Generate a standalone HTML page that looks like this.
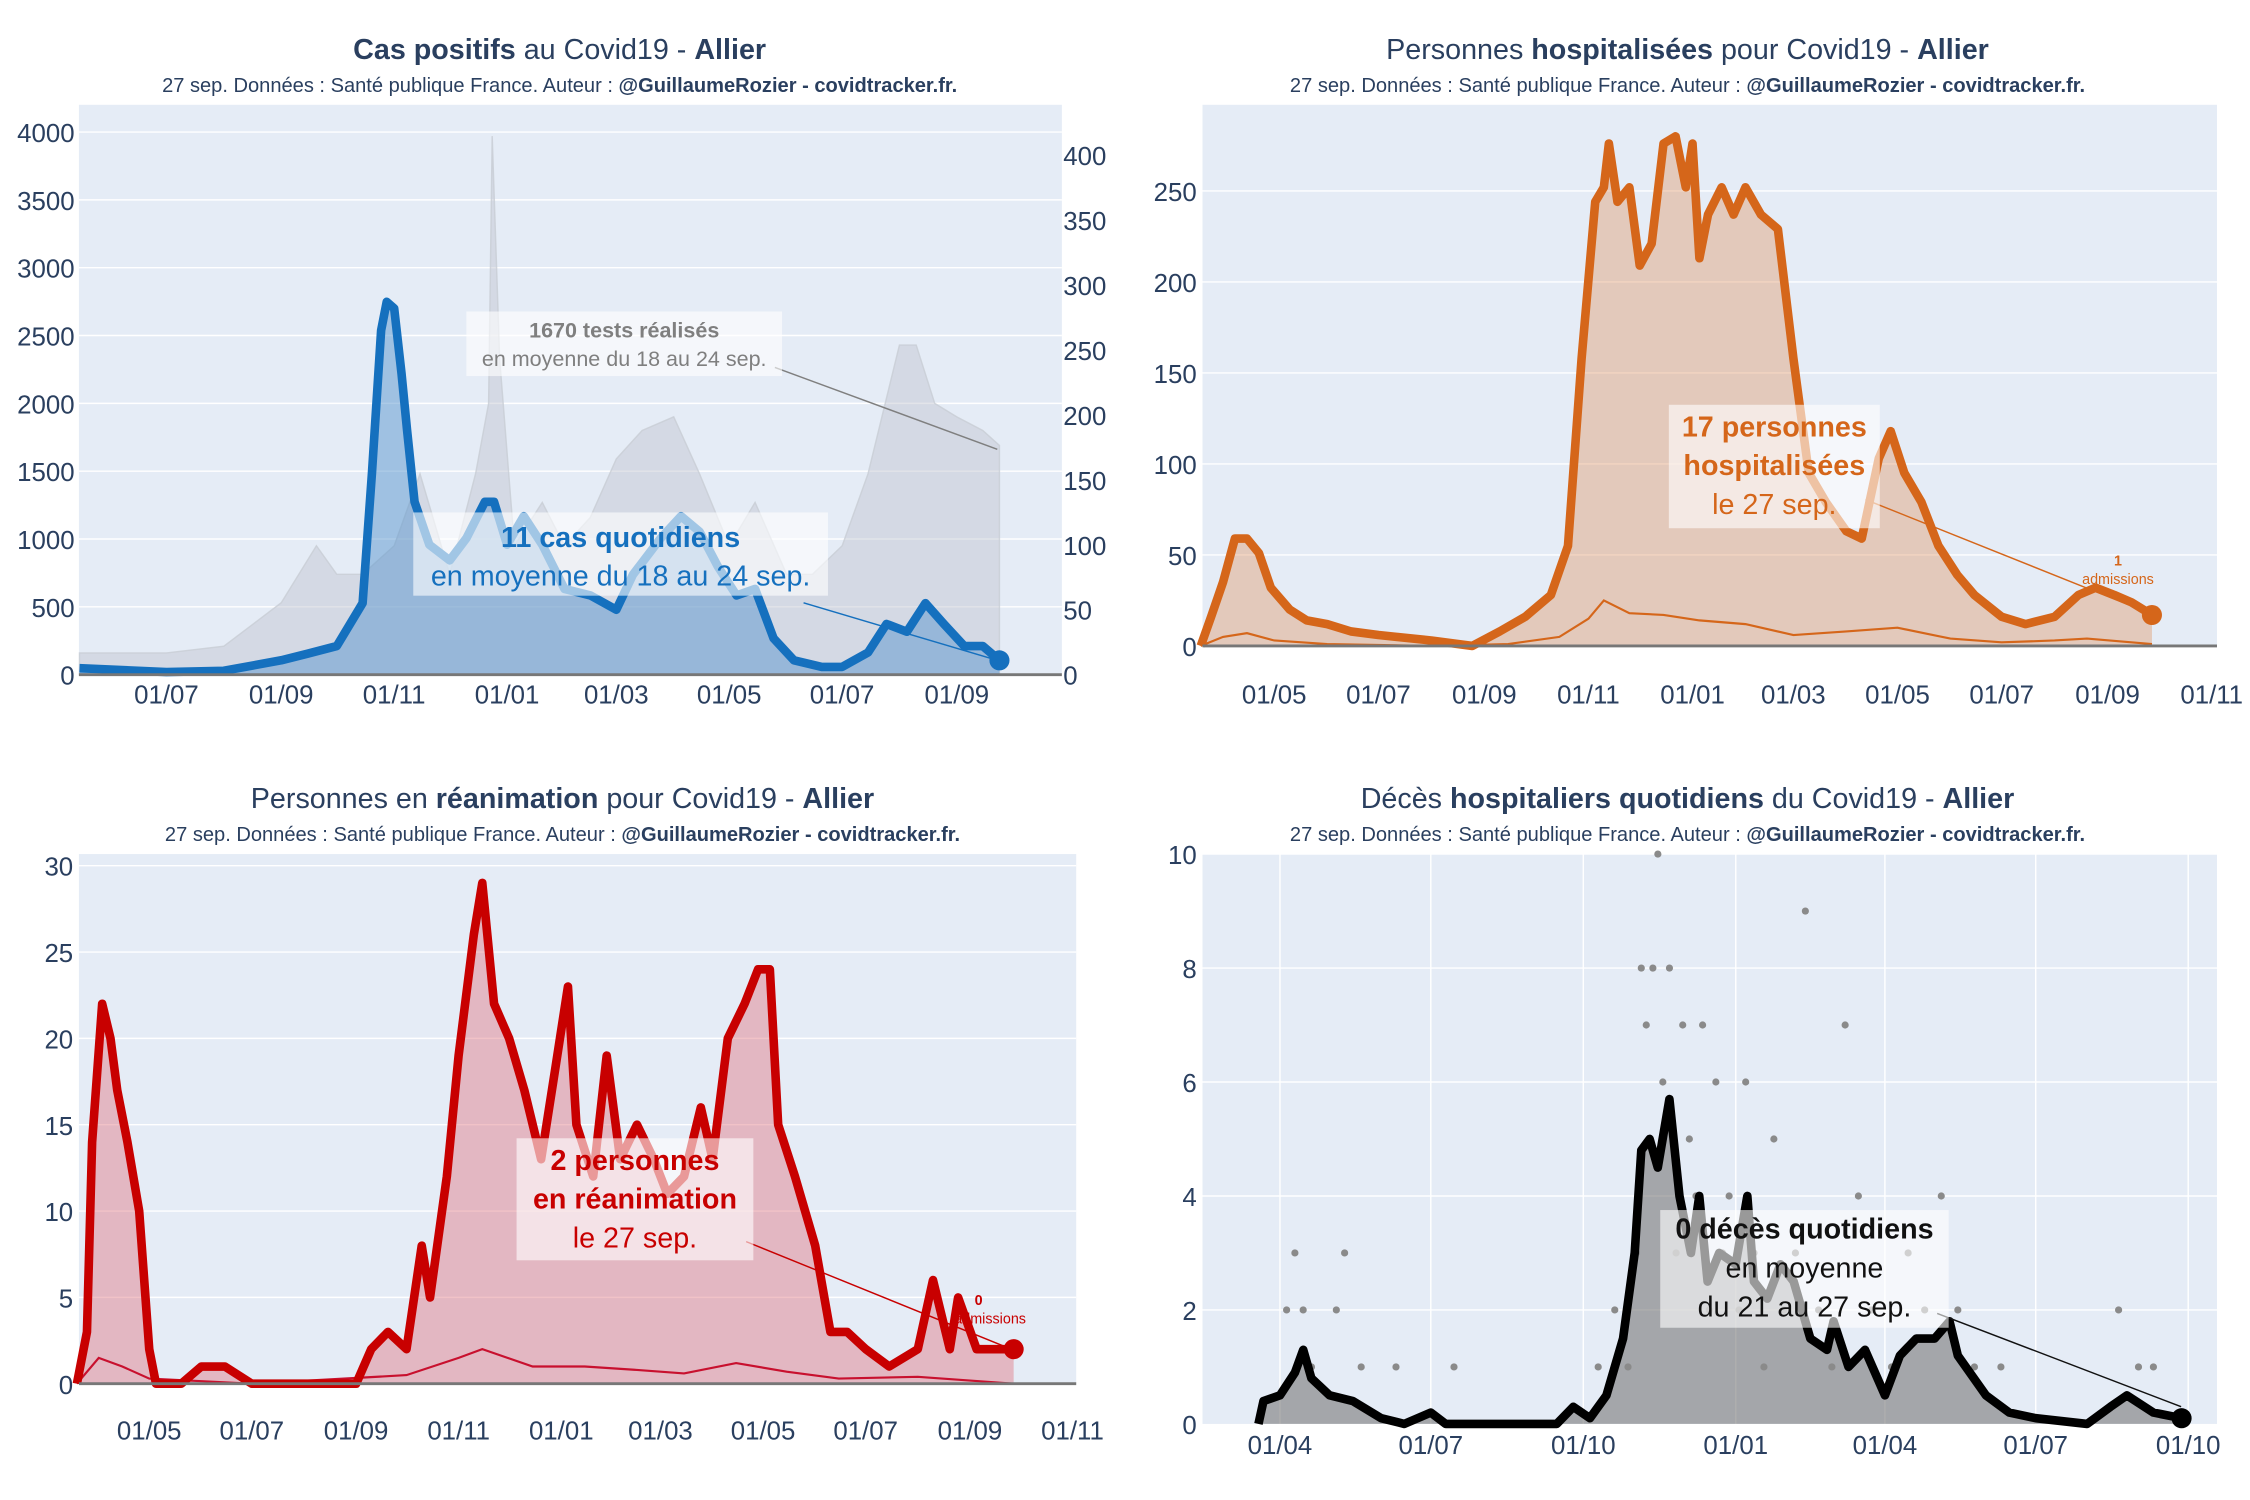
<!DOCTYPE html>
<html><head><meta charset="utf-8"><style>
html,body{margin:0;padding:0;background:#fff;}
svg{display:block;font-family:"Liberation Sans",sans-serif;}
</style></head><body>
<svg id="root" width="2250" height="1500" viewBox="0 0 1568 1045" preserveAspectRatio="none" xmlns="http://www.w3.org/2000/svg"></svg>
<script>
// ---------- DATA ----------
const casesDates=["2020-05-15","2020-07-01","2020-08-01","2020-09-01","2020-09-15","2020-10-01","2020-10-15","2020-10-20","2020-10-25","2020-10-28","2020-11-01","2020-11-05","2020-11-08","2020-11-12","2020-11-20","2020-12-01","2020-12-10","2020-12-20","2020-12-25","2021-01-01","2021-01-10","2021-01-20","2021-02-01","2021-02-15","2021-03-01","2021-03-10","2021-03-25","2021-04-05","2021-04-15","2021-04-25","2021-05-05","2021-05-15","2021-05-25","2021-06-05","2021-06-20","2021-07-01","2021-07-15","2021-07-25","2021-08-05","2021-08-15","2021-08-25","2021-09-05","2021-09-15","2021-09-24"];
const casesValues=[5,2,3,11,16,22,55,155,265,287,282,232,188,133,100,88,105,133,133,100,122,100,66,61,50,77,105,122,110,83,61,66,28,11,6,6,17,39,33,55,39,22,22,11];
const testsDates=["2020-05-15","2020-07-01","2020-08-01","2020-09-01","2020-09-20","2020-10-01","2020-10-15","2020-11-01","2020-11-15","2020-12-01","2020-12-15","2020-12-22","2020-12-24","2020-12-28","2021-01-05","2021-01-20","2021-02-01","2021-02-15","2021-03-01","2021-03-15","2021-04-01","2021-04-15","2021-05-01","2021-05-15","2021-06-01","2021-06-15","2021-07-01","2021-07-15","2021-08-01","2021-08-10","2021-08-20","2021-09-01","2021-09-15","2021-09-24"];
const testsValues=[160,160,210,530,950,740,740,950,1480,740,1480,2000,3970,2330,950,1270,950,1160,1590,1800,1900,1480,950,1270,740,740,950,1480,2430,2430,2000,1900,1800,1690];
const hospDates=["2020-03-19","2020-03-25","2020-04-01","2020-04-08","2020-04-15","2020-04-22","2020-04-29","2020-05-10","2020-05-20","2020-06-01","2020-06-15","2020-07-01","2020-08-01","2020-08-25","2020-09-10","2020-09-25","2020-10-10","2020-10-20","2020-10-28","2020-11-05","2020-11-10","2020-11-13","2020-11-18","2020-11-25","2020-12-01","2020-12-08","2020-12-15","2020-12-22","2020-12-28","2021-01-01","2021-01-05","2021-01-10","2021-01-18","2021-01-25","2021-02-01","2021-02-10","2021-02-20","2021-03-01","2021-03-10","2021-03-20","2021-04-01","2021-04-10","2021-04-20","2021-04-27","2021-05-05","2021-05-15","2021-05-25","2021-06-05","2021-06-15","2021-07-01","2021-07-15","2021-08-01","2021-08-15","2021-08-25","2021-09-05","2021-09-15","2021-09-27"];
const hospValues=[0,16,35,59,59,51,32,20,14,12,8,6,3,0,8,16,28,55,158,244,252,276,244,252,209,221,276,280,252,276,213,237,252,237,252,237,229,158,95,79,63,59,103,118,95,79,55,39,28,16,12,16,28,32,28,24,17];
const hospAdmDates=["2020-03-19","2020-04-01","2020-04-15","2020-05-01","2020-06-01","2020-08-01","2020-09-15","2020-10-15","2020-11-01","2020-11-10","2020-11-25","2020-12-15","2021-01-05","2021-02-01","2021-03-01","2021-04-01","2021-05-01","2021-06-01","2021-07-01","2021-08-01","2021-08-20","2021-09-27"];
const hospAdmValues=[0,5,7,3,1,0,1,5,15,25,18,17,14,12,6,8,10,4,2,3,4,1];
const reaDates=["2020-03-19","2020-03-25","2020-03-28","2020-04-03","2020-04-08","2020-04-12","2020-04-18","2020-04-25","2020-05-01","2020-05-05","2020-05-20","2020-06-01","2020-06-15","2020-07-01","2020-09-01","2020-09-10","2020-09-20","2020-10-01","2020-10-10","2020-10-15","2020-10-25","2020-11-01","2020-11-10","2020-11-15","2020-11-22","2020-12-01","2020-12-10","2020-12-20","2020-12-28","2021-01-05","2021-01-10","2021-01-20","2021-01-28","2021-02-05","2021-02-15","2021-02-25","2021-03-05","2021-03-15","2021-03-25","2021-04-01","2021-04-10","2021-04-20","2021-04-28","2021-05-05","2021-05-10","2021-05-20","2021-06-01","2021-06-10","2021-06-20","2021-07-01","2021-07-15","2021-08-01","2021-08-10","2021-08-20","2021-08-25","2021-09-05","2021-09-15","2021-09-27"];
const reaValues=[0,3,14,22,20,17,14,10,2,0,0,1,1,0,0,2,3,2,8,5,12,19,26,29,22,20,17,13,18,23,15,12,19,13,15,13,11,12,16,13,20,22,24,24,15,12,8,3,3,2,1,2,6,2,5,2,2,2];
const reaAdmDates=["2020-03-19","2020-04-01","2020-04-15","2020-05-01","2020-07-01","2020-10-01","2020-11-01","2020-11-15","2020-12-15","2021-01-15","2021-02-15","2021-03-15","2021-04-15","2021-05-15","2021-06-15","2021-08-01","2021-09-27"];
const reaAdmValues=[0,1.5,1,0.3,0,0.5,1.5,2,1,1,0.8,0.6,1.2,0.7,0.3,0.4,0];
const decesDates=["2020-03-19","2020-03-22","2020-04-01","2020-04-10","2020-04-15","2020-04-20","2020-05-01","2020-05-15","2020-06-01","2020-06-15","2020-07-01","2020-07-10","2020-09-15","2020-09-25","2020-10-05","2020-10-15","2020-10-25","2020-11-01","2020-11-05","2020-11-10","2020-11-15","2020-11-22","2020-11-28","2020-12-05","2020-12-10","2020-12-15","2020-12-22","2021-01-01","2021-01-08","2021-01-12","2021-01-20","2021-01-28","2021-02-05","2021-02-15","2021-02-25","2021-03-01","2021-03-10","2021-03-20","2021-04-01","2021-04-10","2021-04-20","2021-05-01","2021-05-10","2021-05-15","2021-06-01","2021-06-15","2021-07-01","2021-08-01","2021-08-15","2021-08-25","2021-09-10","2021-09-27"];
const decesValues=[0,0.4,0.5,0.9,1.3,0.8,0.5,0.4,0.1,0,0.2,0,0,0.3,0.1,0.5,1.5,3,4.8,5,4.5,5.7,4,3,4,2.5,3,2.8,4,2.5,2.2,2.8,2.5,1.5,1.3,1.8,1,1.3,0.5,1.2,1.5,1.5,1.8,1.2,0.5,0.2,0.1,0,0.3,0.5,0.2,0.1];
const dailyDeathDates=["2020-04-05","2020-04-10","2020-04-15","2020-04-20","2020-05-05","2020-05-10","2020-05-20","2020-06-10","2020-07-15","2020-10-10","2020-10-20","2020-10-28","2020-11-02","2020-11-05","2020-11-08","2020-11-12","2020-11-15","2020-11-18","2020-11-22","2020-11-26","2020-11-30","2020-12-04","2020-12-08","2020-12-12","2020-12-16","2020-12-20","2020-12-24","2020-12-28","2021-01-03","2021-01-07","2021-01-12","2021-01-18","2021-01-24","2021-01-30","2021-02-06","2021-02-12","2021-02-20","2021-02-28","2021-03-08","2021-03-16","2021-03-24","2021-04-05","2021-04-15","2021-04-25","2021-05-05","2021-05-15","2021-05-25","2021-06-10","2021-08-20","2021-09-01","2021-09-10"];
const dailyDeathValues=[2,3,2,1,2,3,1,1,1,1,2,1,3,8,7,8,10,6,8,3,7,5,4,7,2,6,3,4,2,6,3,1,5,2,3,9,2,1,7,4,2,1,3,2,4,2,1,1,2,1,1];

// ---------- HELPERS ----------
const NS="http://www.w3.org/2000/svg";
const root=document.getElementById("root");
function el(tag,attrs,parent){const e=document.createElementNS(NS,tag);for(const k in attrs)e.setAttribute(k,attrs[k]);(parent||root).appendChild(e);return e;}
function days(s){return Date.UTC(+s.slice(0,4),+s.slice(5,7)-1,+s.slice(8,10))/86400000;}
function mkScaleX(refDate,refX,ppd){const r=days(refDate);return d=>refX+(days(d)-r)*ppd;}
function mkScaleY(y0,ppu){return v=>y0-v*ppu;}
function linePath(ds,vs,sx,sy){return ds.map((d,i)=>(i?"L":"M")+sx(d).toFixed(1)+","+sy(vs[i]).toFixed(1)).join("");}
function areaPath(ds,vs,sx,sy){return linePath(ds,vs,sx,sy)+"L"+sx(ds[ds.length-1]).toFixed(1)+","+sy(0)+"L"+sx(ds[0]).toFixed(1)+","+sy(0)+"Z";}
function txt(x,y,s,size,fill,anchor,weight,parent){const t=el("text",{x:x,y:y,"font-size":size,fill:fill,"text-anchor":anchor||"middle","font-weight":weight||"normal"},parent);t.textContent=s;return t;}

function title(cx,y,parts){const t=el("text",{x:cx,y:y,"font-size":20,fill:"#2a3f5f","text-anchor":"middle"});
  
  
  parts.forEach(p=>{const s=el("tspan",{"font-weight":p[1]?"bold":"normal"},t);s.textContent=p[0];});
  const sub=el("text",{x:cx,y:y+23,"font-size":14,fill:"#2a3f5f","text-anchor":"middle"});
  
  
  const a=el("tspan",{},sub);a.textContent="27 sep. Données : Santé publique France. Auteur : ";
  const b=el("tspan",{"font-weight":"bold"},sub);b.textContent="@GuillaumeRozier - covidtracker.fr.";
}
function plotBg(x,y,w,h,name){const r=el("rect",{x:x,y:y,width:w,height:h,fill:"#e5ecf6"});
  
  }
function yTicks(vals,sy,x,x1,x2,anchor,grid){const g=el("g",{});
  
  
  vals.forEach(v=>{if(grid&&v>0)el("line",{x1:x1,x2:x2,y1:sy(v),y2:sy(v),stroke:"#fff","stroke-width":1},g);txt(x,sy(v)+7,String(v),18,"#2a3f5f",anchor,"normal",g);});}
function xTicks(ds,labels,sx,y,vgrid,y1,y2){const g=el("g",{});
  
  
  ds.forEach((d,i)=>{if(vgrid)el("line",{x1:sx(d),x2:sx(d),y1:y1,y2:y2,stroke:"#fff","stroke-width":1},g);txt(sx(d),y,labels[i],18,"#2a3f5f","middle","normal",g);});}
function annot(x,y,w,h,lines,color,lx1,ly1,lx2,ly2){const g=el("g",{});
  
  
  el("line",{x1:lx1,y1:ly1,x2:lx2,y2:ly2,stroke:color,"stroke-width":1},g);
  el("rect",{x:x,y:y,width:w,height:h,fill:"rgba(255,255,255,0.6)"},g);
  lines.forEach((l,i)=>txt(x+w/2,y+l[3],l[0],l[1],color,"middle",l[2]?"bold":"normal",g));}

// ---------- PANEL 1: cases ----------
title(390,41,[["Cas positifs",1],[" au Covid19 - ",0],["Allier",1]]);
plotBg(55,73,685,397,"cases-plot-area");
const sx1=mkScaleX("2020-07-01",116,1.29);
const syL1=mkScaleY(470,0.0945), syR1=mkScaleY(470,0.905);
yTicks([0,500,1000,1500,2000,2500,3000,3500,4000],syL1,52,55,740,"end",true);
yTicks([0,50,100,150,200,250,300,350,400],syR1,741,55,740,"start",false);
const tests=el("path",{d:areaPath(testsDates,testsValues,sx1,syL1),fill:"rgba(190,196,206,0.45)",stroke:"rgba(200,205,212,0.8)","stroke-width":1});


const casesA=el("path",{d:areaPath(casesDates,casesValues,sx1,syR1),fill:"rgba(90,150,205,0.5)"});


const casesL=el("path",{d:linePath(casesDates,casesValues,sx1,syR1),fill:"none",stroke:"#1570be","stroke-width":6,"stroke-linejoin":"round"});


const c1=el("circle",{cx:sx1(casesDates[casesDates.length-1]),cy:syR1(casesValues[casesValues.length-1]),r:7,fill:"#1570be"});


el("line",{x1:55,x2:740,y1:470,y2:470,stroke:"#777","stroke-width":2});
xTicks(["2020-07-01","2020-09-01","2020-11-01","2021-01-01","2021-03-01","2021-05-01","2021-07-01","2021-09-01"],["01/07","01/09","01/11","01/01","01/03","01/05","01/07","01/09"],sx1,490,false);
annot(325,217,220,45,[["1670 tests réalisés",15,1,18],["en moyenne du 18 au 24 sep.",15,0,38]],"#7f7f7f",540,256,695,313);
annot(288,357,289,58,[["11 cas quotidiens",20,1,24],["en moyenne du 18 au 24 sep.",20,0,51]],"#1570be",560,420,695,460);

// ---------- PANEL 2: hospitalisations ----------
title(1176,41,[["Personnes ",0],["hospitalisées",1],[" pour Covid19 - ",0],["Allier",1]]);
plotBg(838,73,707,377,"hosp-plot-area");
const sx2=mkScaleX("2020-05-01",888,1.19), sy2=mkScaleY(450,1.268);
yTicks([0,50,100,150,200,250],sy2,834,838,1545,"end",true);
const hA=el("path",{d:areaPath(hospDates,hospValues,sx2,sy2),fill:"rgba(225,150,100,0.4)"});


const hAdm=el("path",{d:linePath(hospAdmDates,hospAdmValues,sx2,sy2),fill:"none",stroke:"#d5661a","stroke-width":1.5});


const hL=el("path",{d:linePath(hospDates,hospValues,sx2,sy2),fill:"none",stroke:"#d5661a","stroke-width":6,"stroke-linejoin":"round"});


const c2=el("circle",{cx:sx2(hospDates[hospDates.length-1]),cy:sy2(hospValues[hospValues.length-1]),r:7,fill:"#d5661a"});


el("line",{x1:838,x2:1545,y1:450,y2:450,stroke:"#777","stroke-width":2});
xTicks(["2020-05-01","2020-07-01","2020-09-01","2020-11-01","2021-01-01","2021-03-01","2021-05-01","2021-07-01","2021-09-01","2021-11-01"],["01/05","01/07","01/09","01/11","01/01","01/03","01/05","01/07","01/09","01/11"],sx2,490,false);
annot(1163,282,147,86,[["17 personnes",20,1,22],["hospitalisées",20,1,49],["le 27 sep.",20,0,76]],"#d5661a",1300,348,1500,428);
txt(1476,394,"1",10,"#d5661a","middle","bold");
txt(1476,407,"admissions",10,"#d5661a","middle","normal");

// ---------- PANEL 3: réanimation ----------
title(392,563,[["Personnes en ",0],["réanimation",1],[" pour Covid19 - ",0],["Allier",1]]);
plotBg(55,595,695,369,"rea-plot-area");
const sx3=mkScaleX("2020-05-01",104,1.172), sy3=mkScaleY(964,12.03);
yTicks([0,5,10,15,20,25,30],sy3,51,55,750,"end",true);
const rA=el("path",{d:areaPath(reaDates,reaValues,sx3,sy3),fill:"rgba(225,120,130,0.45)"});


const rAdm=el("path",{d:linePath(reaAdmDates,reaAdmValues,sx3,sy3),fill:"none",stroke:"#c8102e","stroke-width":1.5});


const rL=el("path",{d:linePath(reaDates,reaValues,sx3,sy3),fill:"none",stroke:"#c80000","stroke-width":6,"stroke-linejoin":"round"});


const c3=el("circle",{cx:sx3(reaDates[reaDates.length-1]),cy:sy3(reaValues[reaValues.length-1]),r:7,fill:"#c80000"});


el("line",{x1:55,x2:750,y1:964,y2:964,stroke:"#777","stroke-width":2});
xTicks(["2020-05-01","2020-07-01","2020-09-01","2020-11-01","2021-01-01","2021-03-01","2021-05-01","2021-07-01","2021-09-01","2021-11-01"],["01/05","01/07","01/09","01/11","01/01","01/03","01/05","01/07","01/09","01/11"],sx3,1003,false);
annot(360,793,165,85,[["2 personnes",20,1,22],["en réanimation",20,1,49],["le 27 sep.",20,0,76]],"#c80000",520,865,705,940);
txt(682,909,"0",10,"#c80000","middle","bold");
txt(690,922,"admissions",10,"#c80000","middle","normal");

// ---------- PANEL 4: décès ----------
title(1176,563,[["Décès ",0],["hospitaliers quotidiens",1],[" du Covid19 - ",0],["Allier",1]]);
plotBg(838,595,707,397,"deaths-plot-area");
const sx4=mkScaleX("2020-04-01",892,1.155), sy4=mkScaleY(992,39.7);
yTicks([0,2,4,6,8,10],sy4,834,838,1545,"end",true);
xTicks(["2020-04-01","2020-07-01","2020-10-01","2021-01-01","2021-04-01","2021-07-01","2021-10-01"],["01/04","01/07","01/10","01/01","01/04","01/07","01/10"],sx4,1013,true,595,992);
const dA=el("path",{d:areaPath(decesDates,decesValues,sx4,sy4),fill:"rgba(120,120,120,0.6)"});


dailyDeathDates.forEach((d,i)=>{
  const p=el("circle",{cx:sx4(d),cy:sy4(dailyDeathValues[i]),r:2.5,fill:"#8a8a8a"});
  
  
});
const dL=el("path",{d:linePath(decesDates,decesValues,sx4,sy4),fill:"none",stroke:"#000","stroke-width":6,"stroke-linejoin":"round"});


const c4=el("circle",{cx:sx4(decesDates[decesDates.length-1]),cy:sy4(decesValues[decesValues.length-1]),r:7,fill:"#000"});


annot(1157,843,201,82,[["0 décès quotidiens",20,1,20],["en moyenne",20,0,47],["du 21 au 27 sep.",20,0,74]],"#111",1350,915,1520,980);
</script>
</body></html>
